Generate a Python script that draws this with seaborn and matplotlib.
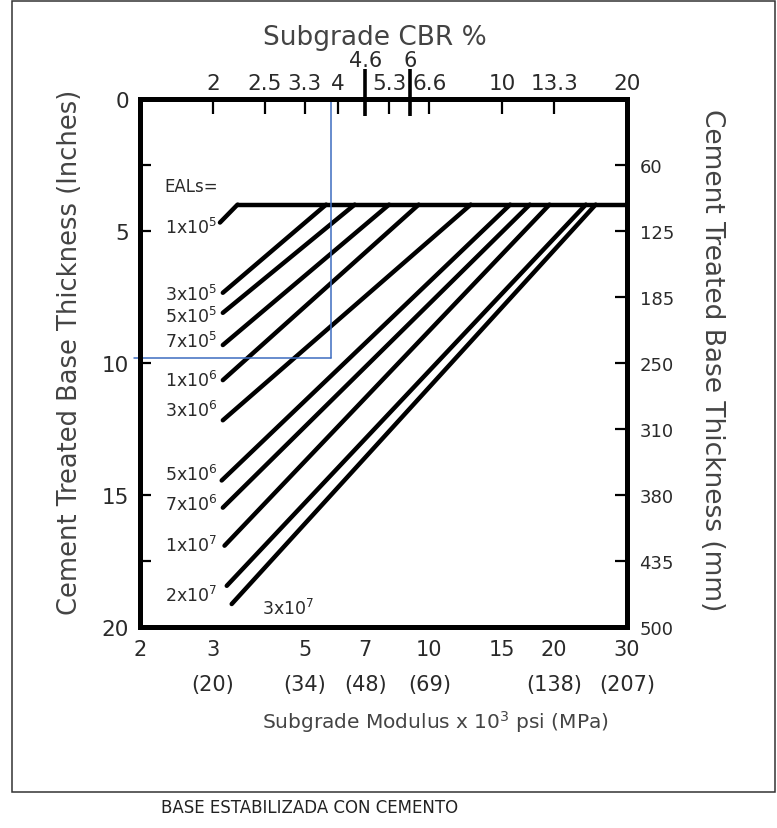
import numpy as np
import pandas as pd
import matplotlib
matplotlib.use("Agg")
import matplotlib.pyplot as plt
import matplotlib.ticker as mticker
from matplotlib.transforms import blended_transform_factory, offset_copy
from matplotlib.patches import Rectangle
import seaborn as sns

# ---------------- data ----------------
eal_labels = ['1x10$^5$', '3x10$^5$', '5x10$^5$', '7x10$^5$', '1x10$^6$', '3x10$^6$',
              '5x10$^6$', '7x10$^6$', '1x10$^7$', '2x10$^7$', '3x10$^7$']
start_modulus = [3.12, 3.17, 3.17, 3.17, 3.17, 3.17, 3.15, 3.17, 3.20, 3.24, 3.33]
start_thickness = [4.68, 7.34, 8.10, 9.32, 10.65, 12.17, 14.45, 15.48, 16.92, 18.44, 19.13]
end_modulus = [3.44, 5.63, 6.60, 7.99, 9.42, 12.58, 15.66, 17.47, 19.49, 23.86, 25.2]
min_thickness = 4.0
modulus_min, modulus_max = 2, 30
thickness_max = 20

modulus_ticks = [3, 4, 5, 6, 7, 8, 9, 10, 15, 20, 30]
cbr_labels = ['2', '2.5', '3.3', '4', '4.6', '5.3', '6', '6.6', '10', '13.3', '20']
cbr_raised = ['4.6', '6']
modulus_label_ticks = [2, 3, 5, 7, 10, 15, 20, 30]
modulus_labels = ['2', '3', '5', '7', '10', '15', '20', '30']
mpa_labels = ['', '(20)', '(34)', '(48)', '(69)', '', '(138)', '(207)']
modulus_minor_ticks = [4, 6, 8, 9]
thick_in_ticks = [0, 5, 10, 15, 20]
thick_in_minor = [2.5, 17.5]
thick_mm_ticks = [2.5, 5, 7.5, 10, 12.5, 15, 17.5, 20]
thick_mm_labels = ['60', '125', '185', '250', '310', '380', '435', '500']
example_modulus = 5.8
example_thickness = 9.8
example_left_modulus = 1.93

# label layout offsets (pixels, positive = lower) relative to line starts
label_dy = [4, 1, 3, -4, 0, -10, -7, -4, -1, 9, 0]

# ---------------- build table ----------------
rows = []
for i, lab in enumerate(eal_labels):
    rows.append(dict(curve=lab, modulus=start_modulus[i], thickness=start_thickness[i]))
    rows.append(dict(curve=lab, modulus=end_modulus[i], thickness=min_thickness))
rows.append(dict(curve='base', modulus=end_modulus[0], thickness=min_thickness))
rows.append(dict(curve='base', modulus=modulus_max, thickness=min_thickness))
df = pd.DataFrame(rows)

sns.set_style("white")
plt.rcParams['font.family'] = ['DejaVu Sans']
plt.rcParams['mathtext.fontset'] = 'dejavusans'

W, H = 777, 829
fig = plt.figure(figsize=(W / 100, H / 100), dpi=100)
fig.patch.set_facecolor('white')
ax = fig.add_axes([140 / W, 1 - 628 / H, 487 / W, 528 / H])

sns.lineplot(data=df, x='modulus', y='thickness', units='curve', estimator=None,
             sort=False, color='black', lw=3.2, ax=ax, legend=False)
for l in ax.lines:
    l.set_solid_capstyle('round')

ax.set_xscale('log')
ax.set_xlim(modulus_min, modulus_max)
ax.set_ylim(thickness_max, 0)
ax.set_xlabel('')
ax.set_ylabel('')
for s in ax.spines.values():
    s.set_linewidth(3.6)
    s.set_color('black')

txtc = '#2a2a2a'

# bottom axis
ax.xaxis.set_major_locator(mticker.FixedLocator(modulus_label_ticks))
ax.xaxis.set_major_formatter(mticker.FixedFormatter(
    [m + ('\n' + p if p else '') for m, p in zip(modulus_labels, mpa_labels)]))
ax.xaxis.set_minor_locator(mticker.FixedLocator(modulus_minor_ticks))
ax.xaxis.set_minor_formatter(mticker.NullFormatter())
ax.tick_params(axis='x', which='both', direction='in', length=9, width=1.6,
               colors='black', labelcolor=txtc, labelsize=15, pad=9,
               top=False)
for lbl in ax.get_xticklabels():
    lbl.set_linespacing(1.9)
mt = ax.xaxis.get_major_ticks()
mt[1].tick1line.set_markersize(20)
mt[1].tick1line.set_markeredgewidth(2.4)
mn = ax.xaxis.get_minor_ticks()
mn[0].tick1line.set_markersize(15)
mn[0].tick1line.set_markeredgewidth(2.4)

# left axis
ax.yaxis.set_major_locator(mticker.FixedLocator(thick_in_ticks))
ax.yaxis.set_major_formatter(mticker.FixedFormatter([str(t) for t in thick_in_ticks]))
ax.yaxis.set_minor_locator(mticker.FixedLocator(thick_in_minor))
ax.tick_params(axis='y', which='both', direction='in', length=8, width=1.6,
               colors='black', labelcolor=txtc, labelsize=15.5, pad=8, right=False)

# top axis (CBR)
sec = ax.secondary_xaxis('top')
sec.xaxis.set_major_locator(mticker.FixedLocator(modulus_ticks))
sec.xaxis.set_major_formatter(mticker.FixedFormatter(
    ['' if c in cbr_raised else c for c in cbr_labels]))
sec.xaxis.set_minor_locator(mticker.NullLocator())
sec.tick_params(axis='x', which='major', direction='in', length=11, width=1.6,
                colors='black', labelcolor=txtc, labelsize=15.5, pad=4)
sec.spines['top'].set_visible(False)
trans_top = blended_transform_factory(ax.transData, ax.transAxes)
for m, c in zip(modulus_ticks, cbr_labels):
    if c in cbr_raised:
        ax.plot([m, m], [0.968, 1.057], color='black', lw=2.6,
                transform=trans_top, clip_on=False, solid_capstyle='butt')
        ax.text(m, 1.073, c, transform=trans_top, ha='center', va='center',
                fontsize=15, color=txtc)

# right axis (mm)
ax2 = ax.twinx()
ax2.set_ylim(thickness_max, 0)
ax2.yaxis.set_major_locator(mticker.FixedLocator(thick_mm_ticks))
ax2.yaxis.set_major_formatter(mticker.FixedFormatter(thick_mm_labels))
ax2.tick_params(axis='y', direction='in', length=9, width=1.6, colors='black',
                labelcolor=txtc, labelsize=13, pad=9)
for s in ax2.spines.values():
    s.set_visible(False)

# EAL labels
ax.text(3.08, 3.3, 'EALs=', ha='right', va='center', fontsize=12, color=txtc)
for i, lab in enumerate(eal_labels):
    if i == len(eal_labels) - 1:
        tr = offset_copy(ax.transData, fig=fig, x=30, y=-4, units='dots')
        ax.text(start_modulus[i], start_thickness[i], lab, ha='left', va='center',
                fontsize=12.5, color=txtc, transform=tr)
    else:
        tr = offset_copy(ax.transData, fig=fig, x=0, y=-label_dy[i], units='dots')
        ax.text(3.08, start_thickness[i], lab, ha='right', va='center',
                fontsize=12.5, color=txtc, transform=tr)

# example (blue) reading lines
blue = '#3d6cc0'
ax.plot([example_modulus, example_modulus], [0, example_thickness], color=blue, lw=1.1)
ax.plot([example_left_modulus, example_modulus], [example_thickness, example_thickness],
        color=blue, lw=1.1, clip_on=False)

# titles
fig.text(375 / W, 1 - 38 / H, 'Subgrade CBR %', ha='center', va='center',
         fontsize=19, color='#444444')
fig.text(435 / W, 1 - 722 / H, 'Subgrade Modulus x 10$^3$ psi (MPa)', ha='center',
         va='center', fontsize=14.5, color='#444444')
fig.text(70 / W, 1 - 352 / H, 'Cement Treated Base Thickness (Inches)', ha='center',
         va='center', rotation=90, fontsize=18.5, color='#444444')
fig.text(712 / W, 1 - 360 / H, 'Cement Treated Base Thickness (mm)', ha='center',
         va='center', rotation=270, fontsize=19, color='#444444')
fig.text(310 / W, 1 - 808 / H, 'BASE ESTABILIZADA CON CEMENTO', ha='center',
         va='center', fontsize=12, color='#222222')

fig.add_artist(Rectangle((12 / W, 1 - 793 / H), (775 - 12) / W, (793 - 2) / H,
                         transform=fig.transFigure, fill=False, lw=1.1, ec='#333333'))

fig.savefig('out.png', dpi=100, facecolor='white')
